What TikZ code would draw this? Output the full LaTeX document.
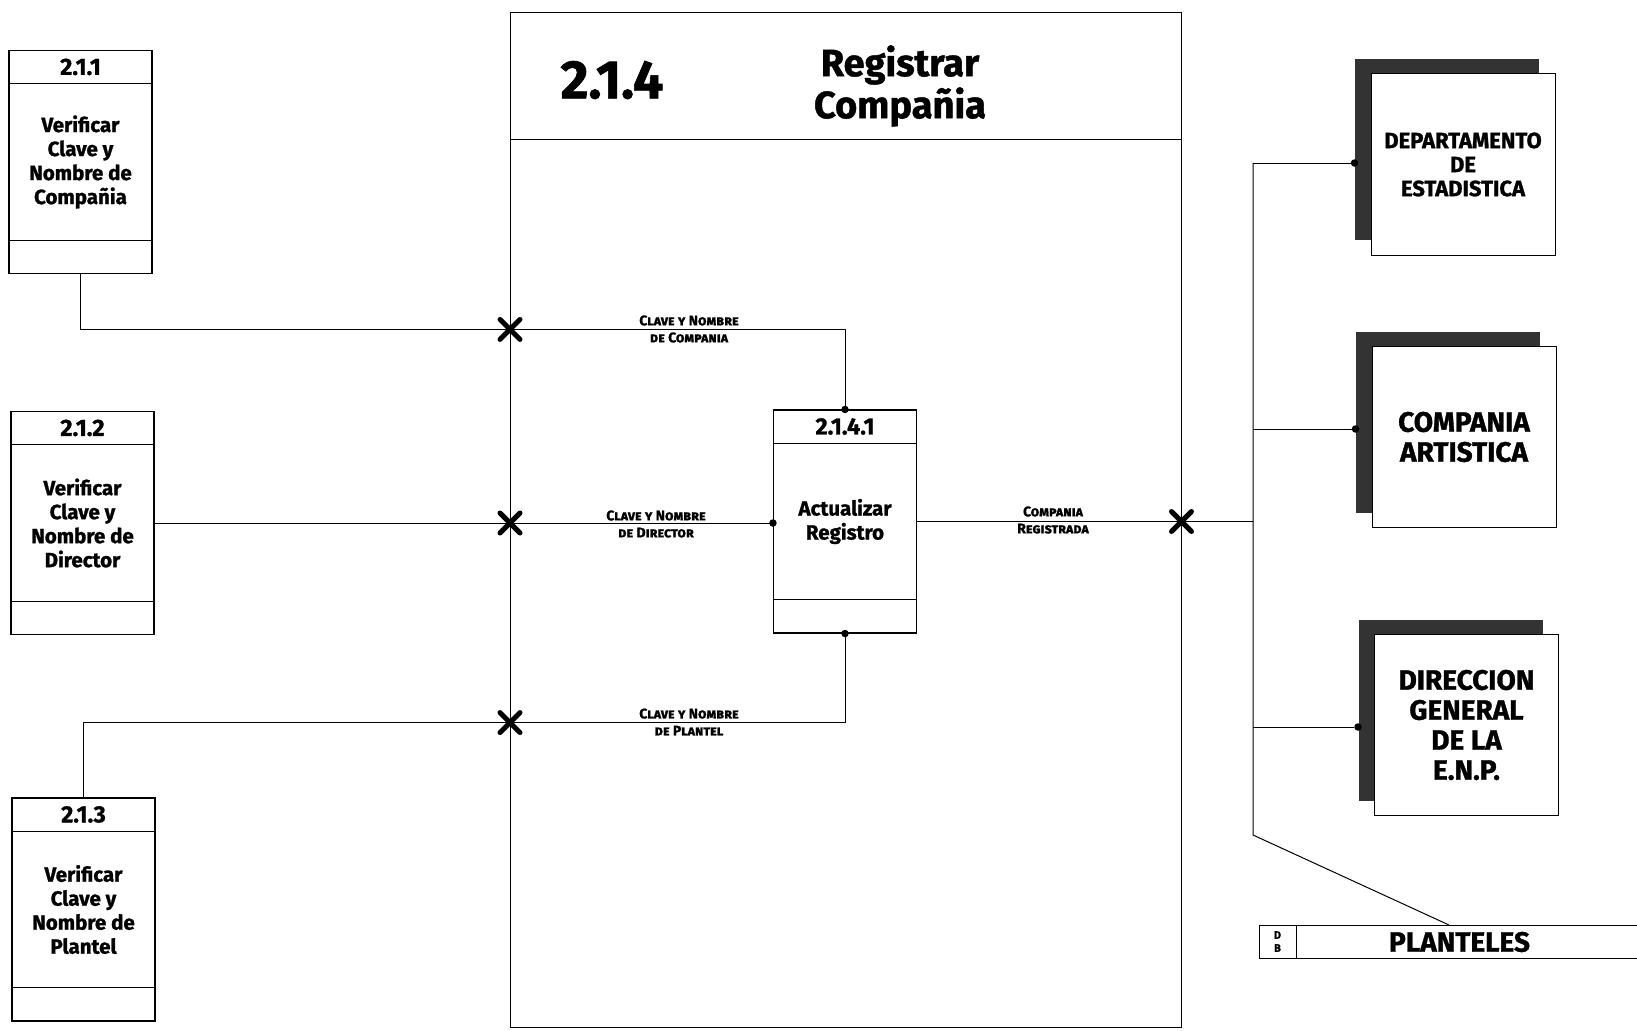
\documentclass[tikz,border=0pt]{standalone}
\usepackage{fontspec}
\setmainfont{Fira Sans}[BoldFeatures={FakeBold=1.2}]
\usepackage{tikz}
\usetikzlibrary{positioning, shapes.misc, shadows, calc}
\definecolor{sombra}{HTML}{333333}

\begin{document}
\begin{tikzpicture}[
    x=1pt, y=-1pt,
    every node/.style={font=\bfseries},
    linea/.style={line width=1pt},
    proceso/.style={draw, line width=1.1pt, minimum width=143pt, minimum height=223pt, inner sep=0pt},
    numproc/.style={font=\fontsize{23.5}{24}\selectfont\bfseries},
    txtproc/.style={align=center, font=\fontsize{20.5}{24}\selectfont\bfseries},
    flujo/.style={align=center, font=\fontsize{14}{17}\selectfont\bfseries\scshape},
    cruz/.style={cross out, draw, line width=5pt, line cap=round, minimum size=15pt, inner sep=0pt},
    punto/.style={circle, fill, inner sep=0pt, minimum size=7.5pt},
    entidad/.style={draw, fill=white, line width=1pt, minimum width=184pt, minimum height=181pt,
        align=center, general shadow={fill=sombra, shadow xshift=-16pt, shadow yshift=15pt}}
]
\useasboundingbox (0,0) rectangle (1637,1030);

% proceso 2.1.4
\node[draw, linea, minimum width=670.5pt, minimum height=1015pt, inner sep=0pt] (marco) at (845.75,520) {};
\draw[linea] ([yshift=-127.5pt]marco.north west) -- ([yshift=-127.5pt]marco.north east);
\node[font=\fontsize{54}{54}\selectfont\bfseries] (n214) at (612,80) {2.1.4};
\node[align=center, font=\fontsize{38}{42}\selectfont\bfseries] (t214) at (900,86) {Registrar\\Compañia};

% procesos
\node[proceso] (p211) at (80.5,162) {};
\node[proceso] (p212) at (82.5,523) {};
\node[proceso] (p213) at (83.5,909.5) {};
\node[proceso] (p2141) at (845,521.5) {};
\foreach \p in {p211,p212,p213,p2141} {
    \draw[linea] ([yshift=-34pt]\p.north west) -- ([yshift=-34pt]\p.north east);
    \draw[linea] ([yshift=34pt]\p.south west) -- ([yshift=34pt]\p.south east);
}
\node[numproc] (n211) at ([yshift=-17pt]p211.north) {2.1.1};
\node[numproc] (n212) at ([yshift=-17pt]p212.north) {2.1.2};
\node[numproc] (n213) at ([yshift=-17pt]p213.north) {2.1.3};
\node[numproc] (n2141) at ([yshift=-17pt]p2141.north) {2.1.4.1};
\node[txtproc] (t211) at (p211.center) {Verificar\\Clave y\\Nombre de\\Compañia};
\node[txtproc] (t212) at (p212.center) {Verificar\\Clave y\\Nombre de\\Director};
\node[txtproc] (t213) at (p213.center) {Verificar\\Clave y\\Nombre de\\Plantel};
\node[txtproc] (t2141) at (p2141.center) {Actualizar\\Registro};

% flujos de entrada
\coordinate (c1) at ([yshift=80pt]p2141.north);
\coordinate (c3) at ([yshift=-89pt]p2141.south);
\draw[linea] (p211.south) |- (c1) -- (p2141.north);
\draw[linea] (p212.east) -- (p212.east -| p2141.west);
\draw[linea] (p213.north) |- (c3) -- (p2141.south);
\node[punto] (d1) at (p2141.north) {};
\node[punto] (d2) at (p212.east -| p2141.west) {};
\node[punto] (d3) at (p2141.south) {};
\node[cruz] (x1) at (marco.west |- c1) {};
\node[cruz] (x2) at (marco.west |- p212.east) {};
\node[cruz] (x3) at (marco.west |- c3) {};
\node[flujo] (f1) at (689,329) {Clave y Nombre\\de Compania};
\node[flujo] (f2) at (656,524) {Clave y Nombre\\de Director};
\node[flujo] (f3) at (689,722) {Clave y Nombre\\de Plantel};

% entidades externas
\node[entidad, font=\fontsize{22}{24}\selectfont\bfseries] (dep) at (1463,164.5) {DEPARTAMENTO\\DE\\ESTADISTICA};
\node[entidad, font=\fontsize{28}{30}\selectfont\bfseries] (cia) at (1464,437) {COMPANIA\\ARTISTICA};
\node[entidad, font=\fontsize{28}{30}\selectfont\bfseries] (dir) at (1466.5,725) {DIRECCION\\GENERAL\\DE LA\\E.N.P.};
\node[punto] (e1) at ([xshift=-16pt,yshift=1.5pt]dep.west) {};
\node[punto] (e2) at ([xshift=-16pt,yshift=8pt]cia.west) {};
\node[punto] (e3) at ([xshift=-16pt,yshift=-2pt]dir.west) {};

% almacen PLANTELES
\draw[linea] (1637,925) -- (1259,925) -- (1259,958) -- (1637,958);
\draw[linea] (1296,925) -- (1296,958);
\node[font=\fontsize{11}{13}\selectfont\bfseries, align=center] (db) at (1277.5,941.5) {D\\B};
\node[font=\fontsize{28}{28}\selectfont\bfseries] (plan) at (1459.5,942) {PLANTELES};
\coordinate (ds) at (1449,925);

% flujo de salida
\coordinate (bus) at (1253,835);
\draw[linea] (p2141.east) -- (p2141.east -| bus);
\draw[linea] (e1 -| bus) -- (bus) -- (ds);
\draw[linea] (e1 -| bus) -- (e1);
\draw[linea] (e2 -| bus) -- (e2);
\draw[linea] (e3 -| bus) -- (e3);
\node[cruz] (x4) at (marco.east |- p2141.east) {};
\node[flujo] (f4) at (1053,520) {Compania\\Registrada};
\end{tikzpicture}
\end{document}
